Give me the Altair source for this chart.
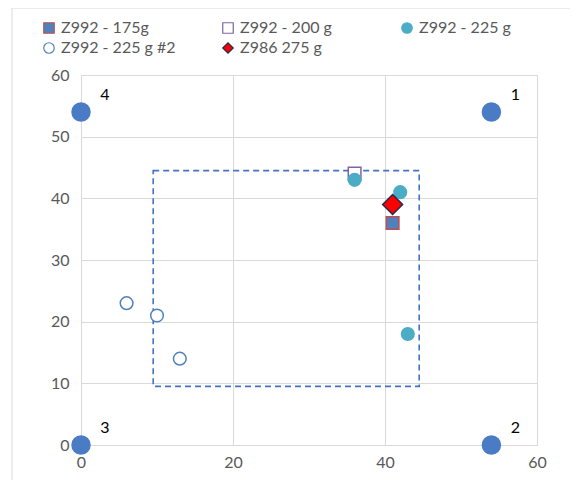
import altair as alt
import pandas as pd

# Series data
series_names = ["Z992 - 175g", "Z992 - 200 g", "Z992 - 225 g", "Z992 - 225 g #2", "Z986 275 g"]
s175_x = [41]; s175_y = [36]
s200_x = [36]; s200_y = [44]
s225_x = [36, 42, 43]; s225_y = [43, 41, 18]
s225b_x = [6, 10, 13]; s225b_y = [23, 21, 14]
z986_x = [41]; z986_y = [39]

# Corner reference points
corner_x = [54, 54, 0, 0]
corner_y = [54, 0, 0, 54]
corner_lbl = ["1", "2", "3", "4"]

# Dashed box
box_x = [9.5]; box_x2 = [44.5]; box_y = [9.5]; box_y2 = [44.5]

x_ticks = [0, 20, 40, 60]
y_ticks = [0, 10, 20, 30, 40, 50, 60]

rows = []
for name, xs, ys in [
    (series_names[0], s175_x, s175_y),
    (series_names[1], s200_x, s200_y),
    (series_names[2], s225_x, s225_y),
    (series_names[3], s225b_x, s225b_y),
    (series_names[4], z986_x, z986_y),
]:
    for a, b in zip(xs, ys):
        rows.append({"x": a, "y": b, "series": name})
pts = pd.DataFrame(rows)
corners = pd.DataFrame({"x": corner_x, "y": corner_y, "lbl": corner_lbl})
box = pd.DataFrame({"x": box_x, "x2": box_x2, "y": box_y, "y2": box_y2})

FONT = "Lato"
xs = alt.Scale(domain=[0, 60], nice=False)
ys = alt.Scale(domain=[0, 60], nice=False)
xaxis = alt.Axis(values=x_ticks, title=None, domain=False, ticks=False, labelPadding=9, labelFlush=False,
                 labelFontSize=16, labelColor="#595959", labelFont=FONT, grid=True, gridColor="#d9d9d9")
yaxis = alt.Axis(values=y_ticks, title=None, domain=False, ticks=False, labelPadding=12, labelFlush=False,
                 labelFontSize=16, labelColor="#595959", labelFont=FONT, grid=True, gridColor="#d9d9d9")

border = alt.Chart(pd.DataFrame({"a": [0]})).mark_rect(
    fill=None, stroke="#d9d9d9", strokeWidth=1
).encode(x=alt.value(-69), x2=alt.value(520), y=alt.value(-67), y2=alt.value(450))

grid = alt.Chart(box).mark_rect(
    fill=None, stroke="#4472C4", strokeWidth=1.6, strokeDash=[6, 4]
).encode(
    x=alt.X("x:Q", scale=xs, axis=xaxis),
    x2="x2:Q",
    y=alt.Y("y:Q", scale=ys, axis=yaxis),
    y2="y2:Q",
)

corner_pts = alt.Chart(corners).mark_point(
    shape="circle", filled=True, size=380, color="#4A7CC6", opacity=1
).encode(x=alt.X("x:Q", scale=xs), y=alt.Y("y:Q", scale=ys))

corner_txt = alt.Chart(corners).mark_text(
    dx=24, dy=-17, fontSize=16, color="#000000", font=FONT
).encode(x=alt.X("x:Q", scale=xs), y=alt.Y("y:Q", scale=ys), text="lbl:N")

legend = alt.Legend(
    title=None, orient="none", legendX=-40, legendY=-55, direction="horizontal",
    columns=3, columnPadding=44, rowPadding=4, gridAlign="all", symbolSize=110,
    labelFontSize=16, labelColor="#595959", labelFont=FONT, symbolStrokeWidth=1.2,
)

enc = dict(
    x=alt.X("x:Q", scale=xs),
    y=alt.Y("y:Q", scale=ys),
    shape=alt.Shape("series:N", scale=alt.Scale(domain=series_names,
                    range=["square", "square", "circle", "circle", "diamond"]), legend=legend),
    fill=alt.Fill("series:N", scale=alt.Scale(domain=series_names,
                  range=["#4F81BD", "#ffffff", "#4BACC6", "#ffffff", "#FF0000"]), legend=legend),
    stroke=alt.Stroke("series:N", scale=alt.Scale(domain=series_names,
                      range=["#C0504D", "#8064A2", "#4BACC6", "#4F81BD", "#1F2D50"]), legend=legend),
)

series_pts = alt.Chart(pts).mark_point(opacity=1, strokeWidth=1.5, size=160).encode(**enc).transform_filter(
    alt.datum.series != series_names[4])
diamond_pts = alt.Chart(pts).mark_point(opacity=1, strokeWidth=1.5, size=400).encode(**enc).transform_filter(
    alt.datum.series == series_names[4])

chart = alt.layer(border, grid, corner_pts, corner_txt, series_pts, diamond_pts).properties(
    width=456, height=370,
    autosize=alt.AutoSizeParams(type="none"),
    padding={"left": 73, "top": 67, "right": 33, "bottom": 35},
).configure_view(stroke=None).configure(background="#ffffff")

chart.save("out.html", embed_options={"renderer": "svg", "actions": False})
